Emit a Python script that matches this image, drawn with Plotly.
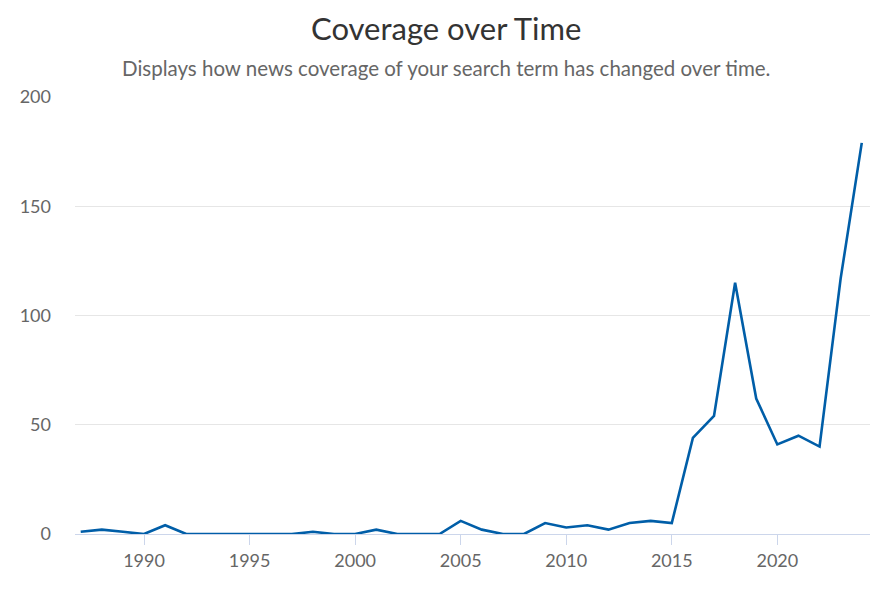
import plotly.graph_objects as go

years = list(range(1987, 2025))
coverage = [1, 2, 1, 0, 4, 0, 0, 0, 0, 0, 0, 1, 0, 0, 2, 0, 0, 0, 6, 2, 0, 0,
            5, 3, 4, 2, 5, 6, 5, 44, 54, 115, 62, 41, 45, 40, 117, 179]

title_text = "Coverage over Time"
subtitle_text = "Displays how news coverage of your search term has changed over time."
x_ticks = [1990, 1995, 2000, 2005, 2010, 2015, 2020]
y_ticks = [0, 50, 100, 150, 200]

W, H = 886, 591
ML, MR, MT, MB = 62, 24, 89, 65

fig = go.Figure()
fig.add_trace(go.Scatter(
    x=years, y=coverage, mode="lines",
    line=dict(color="#005ea8", width=2.6),
    hoverinfo="x+y", showlegend=False,
))

ph = H - MT - MB
pw = W - ML - MR


def py2paper(py):
    return (H - MB - py) / ph


def px2paper(px):
    return (px - ML) / pw


fig.update_layout(
    width=W, height=H,
    paper_bgcolor="white", plot_bgcolor="white",
    margin=dict(l=ML, r=MR, t=MT, b=MB),
    font=dict(family="Lato", color="#666666"),
    annotations=[
        dict(text=title_text, x=px2paper(435), y=py2paper(20), xref="paper", yref="paper",
             xanchor="center", yanchor="middle", showarrow=False,
             font=dict(size=31, color="#333333", family="Lato")),
        dict(text=subtitle_text, x=px2paper(435.5), y=py2paper(60), xref="paper", yref="paper",
             xanchor="center", yanchor="middle", showarrow=False,
             font=dict(size=20.5, color="#666666", family="Lato")),
    ],
)

fig.update_xaxes(
    range=[1986.73, 2024.39], tickvals=x_ticks, ticktext=[str(v) for v in x_ticks],
    showgrid=False, showline=True, linecolor="#ccd6eb", linewidth=1,
    ticks="outside", ticklen=10, tickcolor="#ccd6eb", tickwidth=1,
    tickfont=dict(size=18, color="#666666", family="Lato"), zeroline=False,
)
fig.update_yaxes(
    range=[0, 200], tickvals=y_ticks, ticktext=[str(v) for v in y_ticks],
    showgrid=True, gridcolor="#e6e6e6", gridwidth=1, zeroline=False,
    showline=False, ticks="", ticklabelstandoff=23,
    tickfont=dict(size=18, color="#666666", family="Lato"),
)

fig.write_html("out.html")
